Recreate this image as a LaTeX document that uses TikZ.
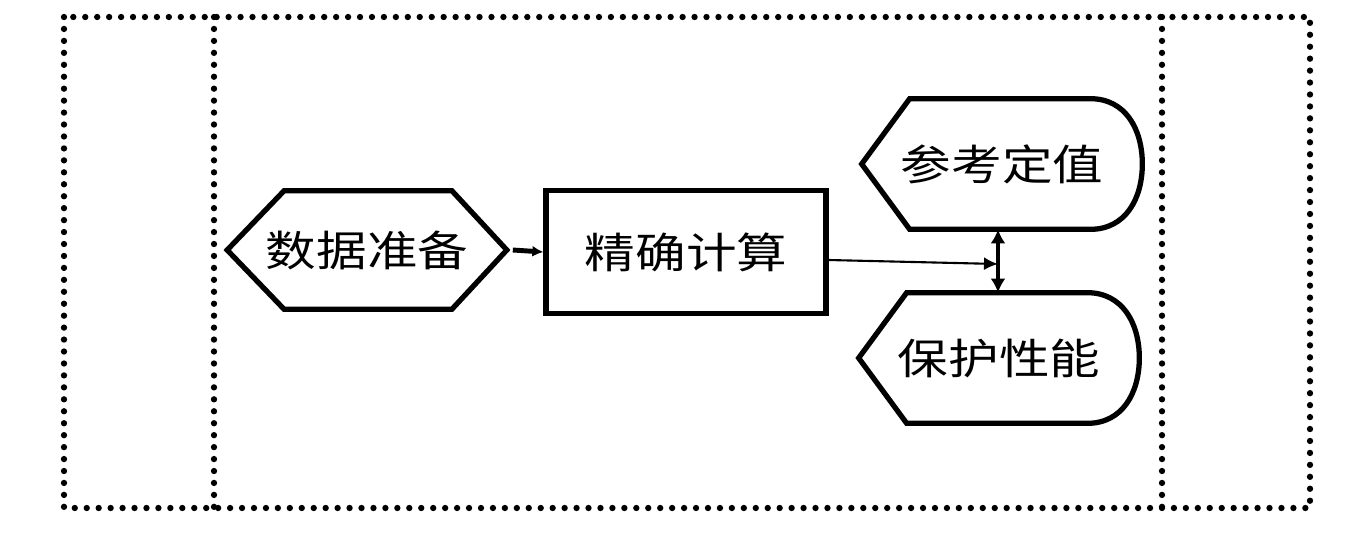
\documentclass[tikz,border=0pt]{standalone}
\usepackage{fontspec}
\newfontfamily\cjk[FakeStretch=1.2]{Noto Sans CJK SC}
\usetikzlibrary{arrows.meta,calc}
\tikzset{>={Latex[length=0.28cm,width=0.26cm]}}
\tikzstyle{frame}=[line width=3.6pt,line cap=round,dash pattern=on 0pt off 6.8pt]
\tikzstyle{block}=[rectangle,inner sep=0pt,font=\cjk\fontsize{24}{28}\selectfont]
\tikzstyle{outline}=[line width=3pt,line join=miter]
\tikzstyle{link}=[->,line width=1.2pt]

\begin{document}
\begin{tikzpicture}[x=0.02cm,y=-0.02cm]
\def \wid {5.6};
\def \hi {2.6};
\def \cut {48};
\def \bulge {52};

\useasboundingbox (0,0) rectangle (1370,535);

% swimlane frame
\draw[frame] (64,17) rectangle (1310,508);
\draw[frame] (214,17) -- (214,508);
\draw[frame] (1162,17) -- (1162,508);

\node[block,minimum width=5.58cm,minimum height=2.36cm] (prep) at (367,250) {数据准备};
\node[block,draw,outline,minimum width=5.6cm,minimum height=2.46cm] (calc) at (686,252) {精确计算};
\node[block,minimum width= \wid cm,minimum height= \hi cm] (ref) at (1002,164) {参考定值};
\node[block,minimum width= \wid cm,minimum height= \hi cm] (perf) at (999,358) {保护性能};

% hexagon
\draw[outline] (prep.west) -- ($(prep.north west)+(57,0)$) -- ($(prep.north east)+(-55,0)$)
	-- (prep.east) -- ($(prep.south east)+(-55,0)$) -- ($(prep.south west)+(57,0)$) -- cycle;

% display shapes
\foreach \n in {ref,perf} {
	\draw[outline] (\n.west) -- ($(\n.north west)+(\cut,0)$) -- ($(\n.north east)+(-\bulge,0)$)
		.. controls ($(\n.north east)+(-17,0)$) and ($(\n.east)+(0,-35)$) .. (\n.east)
		.. controls ($(\n.east)+(0,35)$) and ($(\n.south east)+(-17,0)$) .. ($(\n.south east)+(-\bulge,0)$)
		-- ($(\n.south west)+(\cut,0)$) -- cycle;
};

\coordinate (mid) at (998,264);

\draw[-{Latex[length=0.22cm,width=0.22cm]},line width=2.8pt] (prep.east) ++(6,0) -- (calc.west);
\draw[link] ($(calc.east)+(0,8)$) -- (mid);
\draw[{Latex[length=0.28cm,width=0.3cm]}-{Latex[length=0.28cm,width=0.3cm]},line width=1.8pt] (ref.south -| mid) -- (perf.north -| mid);

\end{tikzpicture}
\end{document}
